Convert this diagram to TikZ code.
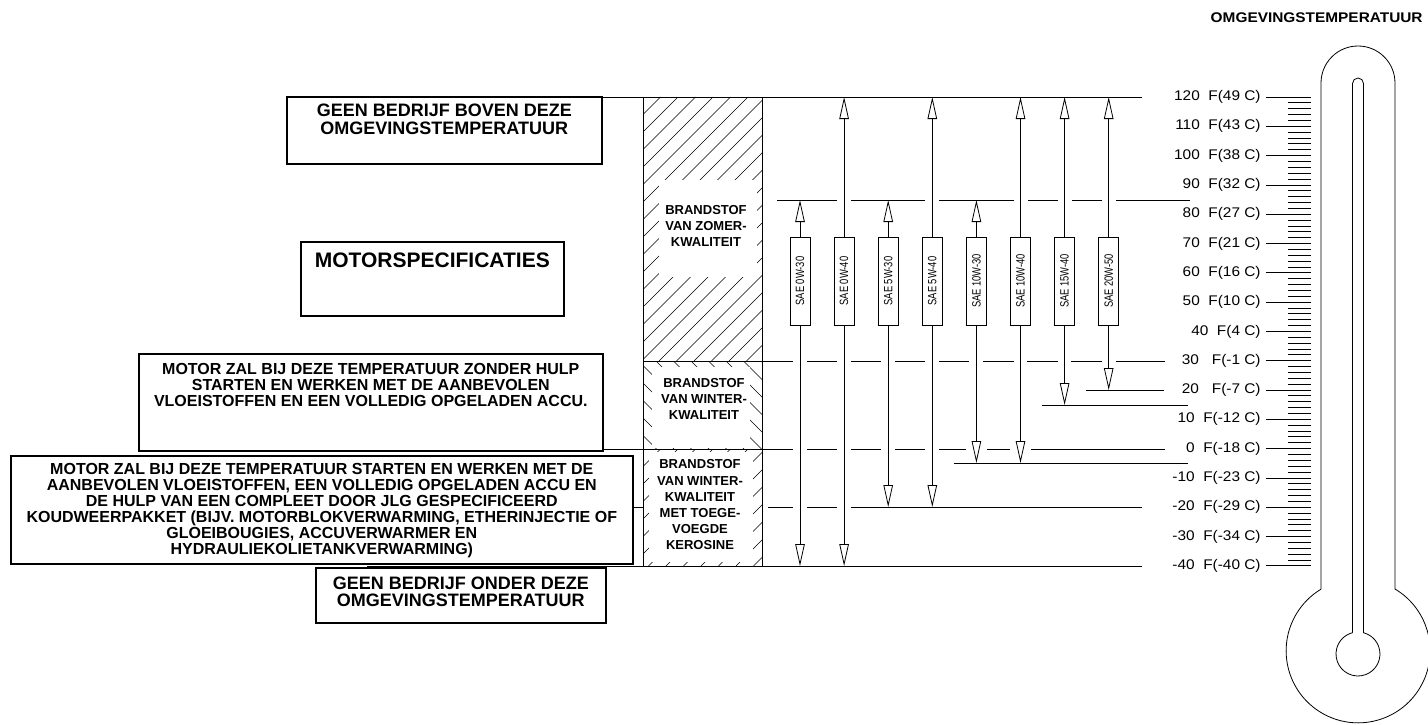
\documentclass[tikz,border=0pt]{standalone}
\usepackage{fontspec}
\setmainfont{Liberation Sans}
\newfontfamily\widesans[FakeStretch=1.1]{Liberation Sans}
\newfontfamily\narrowsans[FakeStretch=0.78]{Liberation Sans}
\usetikzlibrary{arrows.meta,positioning}

\tikzset{
  infobox/.style={draw, line width=1.6pt, inner sep=0pt, anchor=north west},
  boxtext/.style={align=center, inner sep=0pt},
  fuel/.style={inner sep=0pt, align=center, font=\fontsize{13}{16.2}\selectfont\bfseries},
  oilbox/.style={draw, rotate=90, minimum width=88pt, minimum height=20pt, inner sep=0pt, font=\narrowsans\fontsize{12}{12}\selectfont},
  oilarrow/.style={-{Triangle[length=22pt,width=9.5pt,fill=white]}},
  hatch/.style={line width=0.6pt},
  scaletxt/.style={anchor=east, inner sep=0pt, font=\widesans\fontsize{14}{14}\selectfont},
}

\begin{document}
\begin{tikzpicture}[x=1pt, y=-1pt, line width=0.8pt]
\useasboundingbox (0,0) rectangle (1428,725);

\node[anchor=east, inner sep=0pt, font=\widesans\fontsize{14}{14}\selectfont\bfseries] (heading) at (1423,18) {OMGEVINGSTEMPERATUUR};

% limits of the scale
\coordinate (t120) at (1142,97);
\coordinate (t85) at (1190,200);
\coordinate (t20) at (1164,390);
\coordinate (t15) at (1188,405);
\coordinate (t0) at (1165,449);
\coordinate (tm5) at (1188,463);
\coordinate (tm20) at (1142,507);
\coordinate (tm40) at (1142,566);

% text boxes
\node[infobox, minimum width=315pt, minimum height=67pt] (boven) at (286,96) {};
\node[boxtext, font=\fontsize{18}{17.5}\selectfont\bfseries, below=8pt of boven.north] (bovenTxt) {GEEN BEDRIJF BOVEN DEZE\\OMGEVINGSTEMPERATUUR};
\node[infobox, minimum width=263pt, minimum height=74pt] (spec) at (300,241) {};
\node[boxtext, font=\fontsize{21}{21}\selectfont\bfseries, below=11pt of spec.north] (specTxt) {MOTORSPECIFICATIES};
\node[infobox, minimum width=464pt, minimum height=97pt] (zonder) at (138,353) {};
\node[boxtext, font=\fontsize{16}{16.2}\selectfont\bfseries, below=10pt of zonder.north] (zonderTxt) {MOTOR ZAL BIJ DEZE TEMPERATUUR ZONDER HULP\\STARTEN EN WERKEN MET DE AANBEVOLEN\\VLOEISTOFFEN EN EEN VOLLEDIG OPGELADEN ACCU.};
\node[infobox, minimum width=622pt, minimum height=108pt] (koud) at (10,455) {};
\node[boxtext, font=\fontsize{16}{15.9}\selectfont\bfseries, below=8pt of koud.north] (koudTxt) {MOTOR ZAL BIJ DEZE TEMPERATUUR STARTEN EN WERKEN MET DE\\AANBEVOLEN VLOEISTOFFEN, EEN VOLLEDIG OPGELADEN ACCU EN\\DE HULP VAN EEN COMPLEET DOOR JLG GESPECIFICEERD\\KOUDWEERPAKKET (BIJV. MOTORBLOKVERWARMING, ETHERINJECTIE OF\\GLOEIBOUGIES, ACCUVERWARMER EN\\HYDRAULIEKOLIETANKVERWARMING)};
\node[infobox, minimum width=290pt, minimum height=55pt] (onder) at (315,567) {};
\node[boxtext, font=\fontsize{18}{17}\selectfont\bfseries, below=10pt of onder.north] (onderTxt) {GEEN BEDRIJF ONDER DEZE\\OMGEVINGSTEMPERATUUR};

% fuel column
\begin{scope}
  \clip (643,97) rectangle (762,361);
  \foreach \c in {740,757.5,...,1130} \draw[hatch] (\c-361,361) -- (\c-97,97);
\end{scope}
\begin{scope}
  \clip (643,361) rectangle (762,449);
  \foreach \c in {-195,-177.5,...,405} \draw[hatch] (\c+361,361) -- (\c+449,449);
\end{scope}
\begin{scope}
  \clip (643,449) rectangle (762,566);
  \foreach \c in {1092,1109.5,...,1330} \draw[hatch] (\c-566,566) -- (\c-449,449);
\end{scope}
\fill[white] (659,180) rectangle (757,277);
\fill[white] (652,367) rectangle (750,448);
\fill[white] (649,452) rectangle (753,562);
\node[fuel] (summer) at (706,226) {BRANDSTOF\\VAN ZOMER-\\KWALITEIT};
\node[fuel] (winter) at (704,399) {BRANDSTOF\\VAN WINTER-\\KWALITEIT};
\node[fuel] (kerosine) at (700,505) {BRANDSTOF\\VAN WINTER-\\KWALITEIT\\MET TOEGE-\\VOEGDE\\KEROSINE};
\draw (643,97) -- (643,566);
\draw (762,97) -- (762,566);

% temperature lines
\draw (boven.east |- t120) -- (t120);
\foreach \a/\b in {777/837, 851/925, 939/1014, 1028/1058, 1072/1102, 1116/1190} \draw (\a,200) -- (\b,200);
\foreach \a/\b in {643/793, 807/837, 851/881, 895/925, 939/969, 983/1014, 1027/1058, 1071/1102, 1116/1165} \draw (\a,361) -- (\b,361);
\draw (1086,390) -- (t20);
\draw (1042,405) -- (t15);
\foreach \a/\b in {602/793, 807/837, 851/881, 895/925, 939/966, 987/1010, 1031/1165} \draw (\a,449) -- (\b,449);
\draw (954,463) -- (tm5);
\draw (koud.east |- tm20) -- (643,507);
\foreach \a/\b in {768/793, 807/837, 851/1142} \draw (\a,507) -- (\b,507);
\draw (367,566) -- (tm40);

% oil grades
\foreach \lbl/\up/\dn [count=\i] in {0W-30/t85/tm40, 0W-40/t120/tm40, 5W-30/t85/tm20, 5W-40/t120/tm20, 10W-30/t85/tm5, 10W-40/t120/tm5, 15W-40/t120/t15, 20W-50/t120/t20} {
  \pgfmathsetmacro\ox{800+44.1*(\i-1)}
  \node[oilbox] (oil\i) at (\ox,281) {SAE \lbl};
  \draw[oilarrow] (oil\i.east) -- (oil\i.east |- \up);
  \draw[oilarrow] (oil\i.west) -- (oil\i.west |- \dn);
}

% scale
\foreach \t in {-40,-38,...,120} {
  \pgfmathsetmacro\ty{97+(120-\t)*2.93}
  \draw (1288,\ty) -- (1311,\ty);
}
\foreach \t/\lbl [count=\k] in {120/{120~ F(49 C)}, 110/{110~ F(43 C)}, 100/{100~ F(38 C)}, 90/{90~ F(32 C)}, 80/{80~ F(27 C)}, 70/{70~ F(21 C)}, 60/{60~ F(16 C)}, 50/{50~ F(10 C)}, 40/{40~ F(4 C)}, 30/{30~~ F(-1 C)}, 20/{20~~ F(-7 C)}, 10/{10~ F(-12 C)}, 0/{0~ F(-18 C)}, -10/{-10~ F(-23 C)}, -20/{-20~ F(-29 C)}, -30/{-30~ F(-34 C)}, -40/{-40~ F(-40 C)}} {
  \pgfmathsetmacro\ty{97+(120-\t)*2.93}
  \node[scaletxt] (scale\k) at (1261,\ty) {\lbl};
  \draw (1266,\ty) -- (1311,\ty);
}

% thermometer
\draw (1321,589) -- (1321,83) arc[start angle=180, end angle=360, radius=37] -- (1395,589) arc[start angle=-59.2, end angle=239.2, radius=72];
\draw (1352.5,632.7) -- (1352.5,83.5) arc[start angle=180, end angle=360, radius=5.5] -- (1363.5,632.7) arc[start angle=-75.5, end angle=255.5, radius=22];
\end{tikzpicture}
\end{document}
